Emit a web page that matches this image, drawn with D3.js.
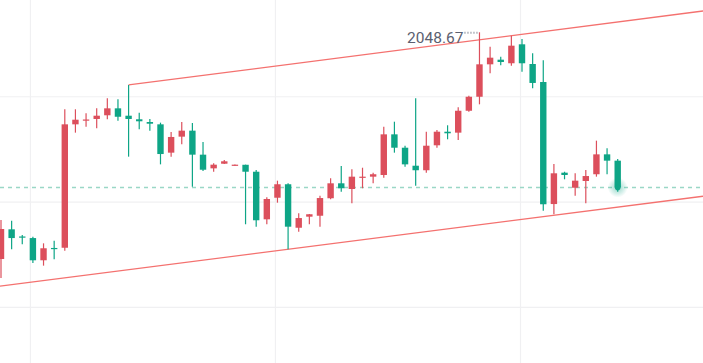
<!DOCTYPE html>
<html>
<head>
<meta charset="utf-8">
<script src="https://cdn.jsdelivr.net/npm/d3@7"></script>
<style>
html,body{margin:0;padding:0;background:#fff;overflow:hidden;}
svg{display:block;}
</style>
</head>
<body>
<div id="chart"></div>
<script>
const openP = [2027.14,2029.96,2029.28,2029.13,2027.02,2028.19,2028.21,2039.93,2040.31,2040.44,2040.79,2041.45,2040.75,2040.41,2040.15,2039.93,2037.24,2038.76,2039.33,2037.05,2035.75,2036.19,2036.00,2036.09,2035.43,2030.91,2032.96,2034.24,2030.11,2031.16,2031.25,2032.91,2034.33,2033.79,2034.90,2034.96,2035.12,2038.98,2037.71,2036.00,2035.57,2037.94,2039.23,2039.14,2041.22,2042.55,2045.63,2046.07,2045.73,2047.53,2045.66,2043.95,2032.36,2035.34,2033.91,2034.55,2035.19,2037.08,2036.48];
const highP = [2030.85,2030.78,2029.42,2029.26,2028.63,2028.88,2041.36,2041.36,2040.98,2041.45,2042.40,2042.31,2043.67,2041.03,2040.44,2040.09,2039.20,2040.15,2040.06,2038.25,2036.23,2036.54,2036.12,2036.10,2035.59,2033.00,2034.58,2034.33,2031.48,2031.41,2033.15,2034.80,2035.97,2035.66,2035.81,2035.34,2039.71,2040.18,2037.90,2042.40,2039.23,2039.39,2039.84,2041.55,2042.65,2048.67,2047.30,2046.35,2048.35,2048.03,2046.68,2046.01,2036.16,2035.43,2035.28,2035.59,2038.38,2037.65,2036.64];
const lowP = [2025.34,2028.06,2028.54,2026.76,2026.51,2027.11,2027.93,2039.14,2039.71,2039.55,2040.41,2040.27,2036.86,2039.46,2039.33,2036.13,2036.86,2038.03,2034.01,2035.50,2035.43,2036.16,2035.99,2030.44,2030.21,2030.44,2032.49,2028.06,2029.73,2030.44,2030.21,2032.81,2033.53,2032.43,2033.86,2034.33,2034.86,2037.24,2035.91,2034.10,2035.34,2037.71,2038.51,2038.44,2041.13,2041.83,2044.78,2045.54,2045.50,2044.93,2043.35,2031.73,2031.39,2034.71,2033.15,2032.43,2034.96,2035.19,2033.53];
const closeP = [2029.99,2029.13,2029.23,2027.02,2028.16,2028.09,2039.93,2040.37,2040.39,2040.75,2041.45,2040.65,2040.44,2040.22,2039.99,2037.11,2038.73,2039.33,2037.05,2035.62,2036.10,2036.42,2036.10,2035.43,2030.82,2032.84,2034.24,2030.21,2031.03,2031.39,2032.93,2034.33,2033.86,2034.96,2034.96,2035.19,2038.98,2037.71,2036.13,2035.57,2037.90,2039.23,2039.08,2041.22,2042.55,2045.63,2046.26,2045.85,2047.40,2045.73,2043.86,2032.34,2035.28,2035.12,2034.58,2035.02,2037.08,2036.48,2033.93];

// grid ticks (candle index / price)
const gridXTicks = [2.77, 25.81, 48.86];
const gridYTicks = [2042.55, 2032.55, 2022.55];

// trend line anchor points: [candle index, price]
const upperTrend = [[12, 2043.67], [48, 2048.35]];
const lowerTrend = [[27, 2028.06], [52, 2031.29]];

// high-price marker
const markerIndex = 45;
const markerLabel = "2048.67";

const W = 703, H = 363;
const UP = "#dc4f5c", DOWN = "#0ea586";

const svg = d3.select("#chart").append("svg").attr("width", W).attr("height", H);

const x = d3.scaleLinear().domain([0, openP.length - 1]).range([1, 617.7]);
const y = d3.scaleLinear().domain([2020, 2050]).range([334.2, 18.3]);

// grid
const grid = svg.append("g");
grid.selectAll(".gx").data(gridXTicks).enter().append("line")
  .attr("x1", d => x(d)).attr("x2", d => x(d)).attr("y1", 0).attr("y2", H)
  .attr("stroke", "#f0f0f2").attr("stroke-width", 1.2);
grid.selectAll(".gy").data(gridYTicks).enter().append("line")
  .attr("x1", 0).attr("x2", W).attr("y1", d => y(d)).attr("y2", d => y(d))
  .attr("stroke", "#f0f0f2").attr("stroke-width", 1.2);

// last price dashed line
const last = closeP[closeP.length - 1];
svg.append("line").attr("x1", 0).attr("x2", W)
  .attr("y1", y(last)).attr("y2", y(last))
  .attr("stroke", "#9ad7c6").attr("stroke-width", 1.4).attr("stroke-dasharray", "4,4");

// trend lines
function extend(pts, fromIdx) {
  const [i0, p0] = pts[0], [i1, p1] = pts[1];
  const slope = (p1 - p0) / (i1 - i0);
  const iEnd = x.invert(W);
  const iStart = fromIdx === null ? x.invert(0) : fromIdx;
  return [[iStart, p0 + slope * (iStart - i0)], [iEnd, p0 + slope * (iEnd - i0)]];
}
const lineGen = d3.line().x(d => x(d[0])).y(d => y(d[1]));
svg.append("path").attr("d", lineGen(extend(upperTrend, upperTrend[0][0])))
  .attr("stroke", "#f4716f").attr("stroke-width", 1.3).attr("fill", "none");
svg.append("path").attr("d", lineGen(extend(lowerTrend, null)))
  .attr("stroke", "#f4716f").attr("stroke-width", 1.3).attr("fill", "none");

// candles
const data = openP.map((o, i) => ({i, o, h: highP[i], l: lowP[i], c: closeP[i]}));
const bw = 6.4;
const cg = svg.append("g");
const cs = cg.selectAll("g").data(data).enter().append("g");
cs.append("line")
  .attr("x1", d => x(d.i)).attr("x2", d => x(d.i))
  .attr("y1", d => y(d.h)).attr("y2", d => y(d.l))
  .attr("stroke", d => d.c >= d.o ? UP : DOWN).attr("stroke-width", 1.2);
cs.append("rect")
  .attr("x", d => x(d.i) - bw / 2).attr("width", bw)
  .attr("y", d => y(Math.max(d.o, d.c)))
  .attr("height", d => Math.max(1.2, Math.abs(y(d.o) - y(d.c))))
  .attr("fill", d => d.c >= d.o ? UP : DOWN);

// glow on last price
const defs = svg.append("defs");
const rg = defs.append("radialGradient").attr("id", "glow");
rg.append("stop").attr("offset", "0%").attr("stop-color", DOWN).attr("stop-opacity", 0.45);
rg.append("stop").attr("offset", "100%").attr("stop-color", DOWN).attr("stop-opacity", 0);
const li = data.length - 1;
svg.append("circle").attr("cx", x(li)).attr("cy", y(last)).attr("r", 10).attr("fill", "url(#glow)");
svg.append("circle").attr("cx", x(li)).attr("cy", y(last)).attr("r", 2.8).attr("fill", DOWN);

// high marker
const mx = x(markerIndex), my = y(highP[markerIndex]);
svg.append("line").attr("x1", mx - 15).attr("x2", mx - 1).attr("y1", my + 0.5).attr("y2", my + 0.5)
  .attr("stroke", "#8a8f9c").attr("stroke-width", 2).attr("stroke-dasharray", "1,2");
svg.append("text").attr("x", mx - 16).attr("y", my + 10.5)
  .attr("text-anchor", "end")
  .attr("font-family", "Roboto, 'Noto Sans', sans-serif")
  .attr("font-size", 15.5)
  .attr("fill", "#5b6070")
  .text(markerLabel);
</script>
</body>
</html>
